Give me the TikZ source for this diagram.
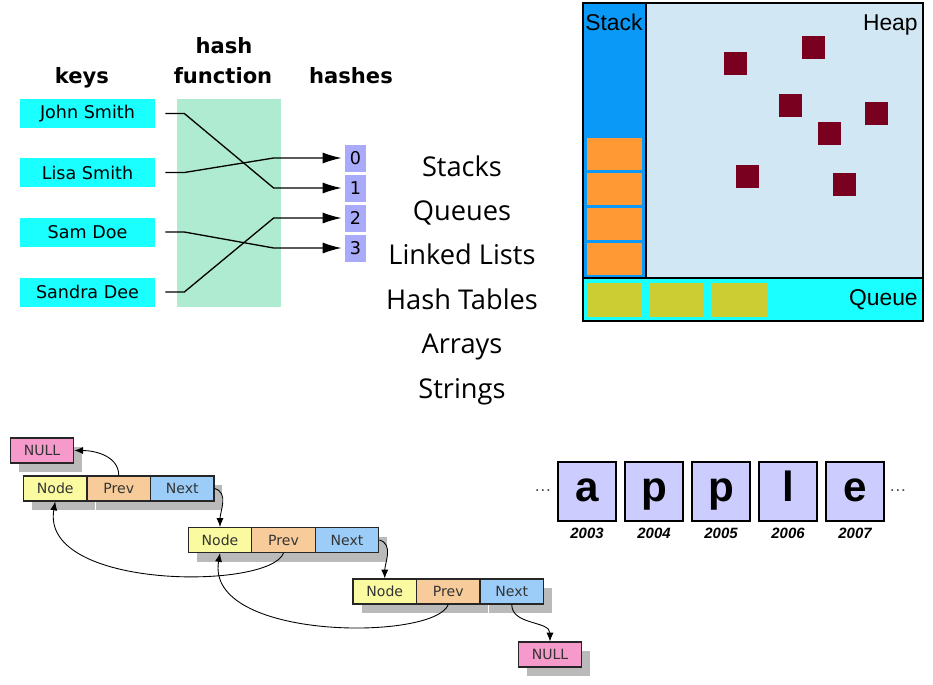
\documentclass[tikz,border=0pt]{standalone}
\usepackage{fontspec}
\setmainfont{Liberation Sans}
\newfontfamily\dejavu{DejaVu Sans}
\newfontfamily\opensans{Open Sans}
\usetikzlibrary{arrows.meta,shadows}

\definecolor{keycyan}{RGB}{26,255,255}
\definecolor{hashgreen}{RGB}{174,235,208}
\definecolor{hashblue}{RGB}{170,170,250}
\definecolor{stackblue}{RGB}{10,153,247}
\definecolor{heapblue}{RGB}{209,231,243}
\definecolor{frameorange}{RGB}{255,153,51}
\definecolor{queueolive}{RGB}{204,204,51}
\definecolor{objred}{RGB}{122,0,32}
\definecolor{llyellow}{RGB}{250,250,160}
\definecolor{llorange}{RGB}{248,204,154}
\definecolor{llblue}{RGB}{156,204,248}
\definecolor{llpink}{RGB}{245,154,203}
\definecolor{arrlav}{RGB}{204,204,255}

\tikzset{
  key/.style={fill=keycyan, minimum width=2.7cm, minimum height=0.58cm, inner sep=0pt, font=\dejavu\fontsize{10}{12}\selectfont},
  bucket/.style={fill=hashblue, minimum width=0.42cm, minimum height=0.54cm, inner sep=0pt, font=\dejavu\fontsize{10}{12}\selectfont},
  head/.style={font=\dejavu\bfseries\fontsize{12}{14}\selectfont, anchor=base},
  hashline/.style={line width=0.75pt, -{Latex[length=0.38cm,width=0.22cm]}, shorten >=0.06cm},
  region/.style={font=\fontsize{13}{15}\selectfont},
  topic/.style={font=\opensans\fontsize{15.5}{18}\selectfont, anchor=base},
  cell/.style={draw=black!85, line width=0.6pt, minimum width=1.27cm, minimum height=0.5cm, inner sep=0pt, font=\dejavu\fontsize{8}{10}\selectfont, text=black!80, drop shadow={shadow xshift=0.17cm, shadow yshift=-0.18cm, fill=black!27, opacity=1}},
  llarrow/.style={line width=0.5pt, -{Latex[length=5pt,width=4pt]}},
  letter/.style={draw, line width=0.8pt, fill=arrlav, minimum width=1.16cm, minimum height=1.18cm, inner sep=0pt, text height=16pt, text depth=4.1pt, font=\bfseries\fontsize{24}{28}\selectfont},
  addr/.style={font=\bfseries\itshape\fontsize{8.5}{10}\selectfont, anchor=base}
}

\begin{document}
\begin{tikzpicture}[x=0.02cm,y=0.02cm]
\useasboundingbox (0,0) rectangle (933,-684);

\fill[hashgreen] (177,-99) rectangle (281,-307);

\node at (87.5,-113.5) [key] (john) {John Smith};
\node at (87.5,-172.5) [key] (lisa) {Lisa Smith};
\node at (87.5,-232) [key] (sam) {Sam Doe};
\node at (87.5,-292) [key] (sandra) {Sandra Dee};

\node at (355.5,-158) [bucket] (h0) {0};
\node at (355.5,-188) [bucket] (h1) {1};
\node at (355.5,-218) [bucket] (h2) {2};
\node at (355.5,-248) [bucket] (h3) {3};

\node at (82,-83) [head] (keys) {keys};
\node at (224,-53) [head] (hash) {hash};
\node at (223,-83) [head] (function) {function};
\node at (351,-83) [head] (hashes) {hashes};

\draw[hashline] ([xshift=0.2cm]john.east) -- ++(0.38cm,0) -- ([xshift=-1.42cm]h1.west) -- (h1.west);
\draw[hashline] ([xshift=0.2cm]lisa.east) -- ++(0.38cm,0) -- ([xshift=-1.42cm]h0.west) -- (h0.west);
\draw[hashline] ([xshift=0.2cm]sam.east) -- ++(0.38cm,0) -- ([xshift=-1.42cm]h3.west) -- (h3.west);
\draw[hashline] ([xshift=0.2cm]sandra.east) -- ++(0.38cm,0) -- ([xshift=-1.42cm]h2.west) -- (h2.west);

\fill[heapblue] (646,-3) rectangle (923,-278);
\filldraw[fill=stackblue, line width=0.9pt] (583,-3) rectangle (646,-278);
\filldraw[fill=keycyan, line width=0.9pt] (583,-278) rectangle (923,-321);
\draw[line width=0.9pt] (583,-3) rectangle (923,-321);

\fill[frameorange] (587,-138) rectangle (642,-170);
\fill[frameorange] (587,-173) rectangle (642,-205);
\fill[frameorange] (587,-208) rectangle (642,-240);
\fill[frameorange] (587,-243) rectangle (642,-275);

\fill[queueolive] (587,-283) rectangle (642,-317);
\fill[queueolive] (649,-283) rectangle (704,-317);
\fill[queueolive] (712,-283) rectangle (767,-317);

\fill[objred] (724,-52) rectangle ++(23,-23);
\fill[objred] (802,-36) rectangle ++(23,-23);
\fill[objred] (779,-94) rectangle ++(23,-23);
\fill[objred] (865,-102) rectangle ++(23,-23);
\fill[objred] (818,-122) rectangle ++(23,-23);
\fill[objred] (736,-165) rectangle ++(23,-23);
\fill[objred] (833,-173) rectangle ++(23,-23);

\node at (585,-30) [region, anchor=base west, inner sep=0pt] (stack) {Stack};
\node at (918,-30) [region, anchor=base east, inner sep=0pt] (heap) {Heap};
\node at (918,-305) [region, anchor=base east, inner sep=0pt] (queue) {Queue};

\node at (462,-176) [topic] (stacks) {Stacks};
\node at (462,-220.4) [topic] (queues) {Queues};
\node at (462,-264.8) [topic] (lists) {Linked Lists};
\node at (462,-309.2) [topic] (tables) {Hash Tables};
\node at (462,-353.6) [topic] (arrays) {Arrays};
\node at (462,-398) [topic] (strings) {Strings};

\node at (42,-450.5) [cell, fill=llpink] (null1) {NULL};

\node at (55.25,-488.5) [cell, fill=llyellow] (node1) {Node};
\node at (118.75,-488.5) [cell, fill=llorange] (prev1) {Prev};
\node at (182.25,-488.5) [cell, fill=llblue] (next1) {Next};

\node at (220,-540) [cell, fill=llyellow] (node2) {Node};
\node at (283.5,-540) [cell, fill=llorange] (prev2) {Prev};
\node at (347,-540) [cell, fill=llblue] (next2) {Next};

\node at (384.75,-591.5) [cell, fill=llyellow] (node3) {Node};
\node at (448.25,-591.5) [cell, fill=llorange] (prev3) {Prev};
\node at (511.75,-591.5) [cell, fill=llblue] (next3) {Next};

\node at (550,-654.5) [cell, fill=llpink] (null2) {NULL};

\draw[llarrow] (prev1.north) to[out=90,in=0] (null1.east);
\draw[llarrow] (next1.east) to[out=-15,in=90] (node2.north);
\draw[llarrow] (next2.east) to[out=-15,in=90] (node3.north);
\draw[llarrow] (prev2.south) .. controls (270,-590) and (40,-590) .. (node1.south);
\draw[llarrow] (prev3.south) .. controls (435,-641) and (205,-641) .. (node2.south);
\draw[llarrow] (next3.south) to[out=-90,in=90] (null2.north);

\node at (587,-491.5) [letter] (a) {a};
\node at (654,-491.5) [letter] (p1) {p};
\node at (721,-491.5) [letter] (p2) {p};
\node at (788,-491.5) [letter] (l) {l};
\node at (855,-491.5) [letter] (e) {e};

\node at (587,-538) [addr] (y2003) {2003};
\node at (654,-538) [addr] (y2004) {2004};
\node at (721,-538) [addr] (y2005) {2005};
\node at (788,-538) [addr] (y2006) {2006};
\node at (855,-538) [addr] (y2007) {2007};

\node at (543,-491) [font=\fontsize{10}{12}\selectfont, text=black!70] (dotsl) {\ldots};
\node at (898,-491) [font=\fontsize{10}{12}\selectfont, text=black!70] (dotsr) {\ldots};

\end{tikzpicture}
\end{document}
